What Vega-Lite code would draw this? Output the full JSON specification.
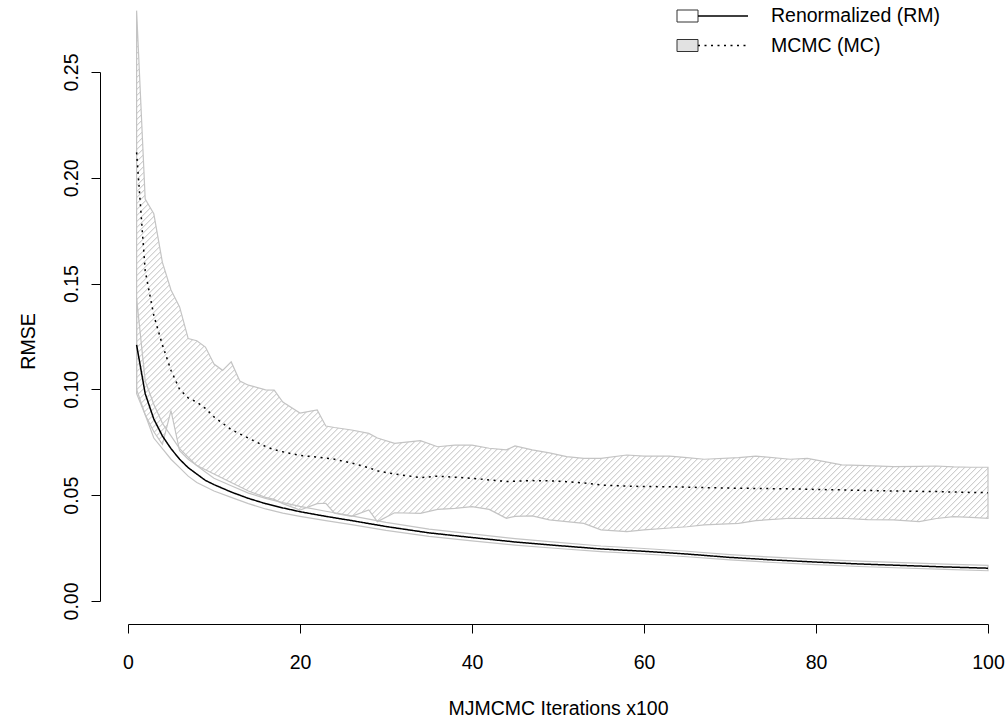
{
  "$schema": "https://vega.github.io/schema/vega-lite/v6.json",
  "width": 860,
  "height": 529,
  "autosize": {"type": "none"},
  "padding": {"left": 128, "top": 72, "right": 20, "bottom": 120},
  "background": "white",
  "config": {
    "view": {"stroke": null},
    "font": "Liberation Sans",
    "axis": {"domainColor": "black", "tickColor": "black", "labelColor": "black", "titleColor": "black", "grid": false, "labelFont": "Liberation Sans", "titleFont": "Liberation Sans", "titleFontWeight": "normal", "labelFontSize": 19.5, "titleFontSize": 19.5, "tickSize": 9, "labelFlush": false, "labelOverlap": false}
  },
  "data": {"values": [
    {"x":1,"series":"MC","lo":0.100,"hi":0.279,"mean":0.212},
    {"x":2,"series":"MC","lo":0.088,"hi":0.190,"mean":0.156},
    {"x":3,"series":"MC","lo":0.080,"hi":0.183,"mean":0.135},
    {"x":4,"series":"MC","lo":0.074,"hi":0.160,"mean":0.121},
    {"x":5,"series":"MC","lo":0.090,"hi":0.147,"mean":0.109},
    {"x":6,"series":"MC","lo":0.071,"hi":0.139,"mean":0.100},
    {"x":7,"series":"MC","lo":0.067,"hi":0.124,"mean":0.096},
    {"x":8,"series":"MC","lo":0.064,"hi":0.123,"mean":0.094},
    {"x":9,"series":"MC","lo":0.062,"hi":0.120,"mean":0.091},
    {"x":10,"series":"MC","lo":0.060,"hi":0.112,"mean":0.087},
    {"x":11,"series":"MC","lo":0.058,"hi":0.109,"mean":0.084},
    {"x":12,"series":"MC","lo":0.056,"hi":0.113,"mean":0.081},
    {"x":13,"series":"MC","lo":0.054,"hi":0.104,"mean":0.079},
    {"x":14,"series":"MC","lo":0.052,"hi":0.102,"mean":0.077},
    {"x":16,"series":"MC","lo":0.049,"hi":0.0998,"mean":0.073},
    {"x":17,"series":"MC","lo":0.048,"hi":0.0997,"mean":0.0715},
    {"x":18,"series":"MC","lo":0.046,"hi":0.094,"mean":0.0705},
    {"x":20,"series":"MC","lo":0.043,"hi":0.0888,"mean":0.0688},
    {"x":22,"series":"MC","lo":0.046,"hi":0.0903,"mean":0.068},
    {"x":23,"series":"MC","lo":0.0462,"hi":0.0827,"mean":0.0675},
    {"x":24,"series":"MC","lo":0.0415,"hi":0.082,"mean":0.067},
    {"x":26,"series":"MC","lo":0.040,"hi":0.0808,"mean":0.0652},
    {"x":28,"series":"MC","lo":0.043,"hi":0.0792,"mean":0.063},
    {"x":29,"series":"MC","lo":0.0375,"hi":0.077,"mean":0.0615},
    {"x":31,"series":"MC","lo":0.0417,"hi":0.0745,"mean":0.060},
    {"x":34,"series":"MC","lo":0.0414,"hi":0.0758,"mean":0.0583},
    {"x":36,"series":"MC","lo":0.0433,"hi":0.0729,"mean":0.059},
    {"x":38,"series":"MC","lo":0.0438,"hi":0.0737,"mean":0.0585},
    {"x":40,"series":"MC","lo":0.0446,"hi":0.0737,"mean":0.058},
    {"x":42,"series":"MC","lo":0.0433,"hi":0.0722,"mean":0.0572},
    {"x":44,"series":"MC","lo":0.0391,"hi":0.0714,"mean":0.0565},
    {"x":45,"series":"MC","lo":0.040,"hi":0.0733,"mean":0.0566},
    {"x":47,"series":"MC","lo":0.0402,"hi":0.0714,"mean":0.0569},
    {"x":49,"series":"MC","lo":0.0383,"hi":0.070,"mean":0.0568},
    {"x":51,"series":"MC","lo":0.0375,"hi":0.0682,"mean":0.0564},
    {"x":53,"series":"MC","lo":0.0367,"hi":0.0674,"mean":0.0558},
    {"x":55,"series":"MC","lo":0.0336,"hi":0.0674,"mean":0.0548},
    {"x":58,"series":"MC","lo":0.0328,"hi":0.069,"mean":0.0543},
    {"x":60,"series":"MC","lo":0.0336,"hi":0.0685,"mean":0.0541},
    {"x":63,"series":"MC","lo":0.0345,"hi":0.0685,"mean":0.054},
    {"x":65,"series":"MC","lo":0.0351,"hi":0.0678,"mean":0.0538},
    {"x":67,"series":"MC","lo":0.036,"hi":0.067,"mean":0.0536},
    {"x":71,"series":"MC","lo":0.0367,"hi":0.0678,"mean":0.0533},
    {"x":73,"series":"MC","lo":0.038,"hi":0.0685,"mean":0.0532},
    {"x":77,"series":"MC","lo":0.0391,"hi":0.067,"mean":0.053},
    {"x":79,"series":"MC","lo":0.039,"hi":0.0674,"mean":0.0528},
    {"x":83,"series":"MC","lo":0.0391,"hi":0.0643,"mean":0.0525},
    {"x":86,"series":"MC","lo":0.0385,"hi":0.064,"mean":0.0522},
    {"x":89,"series":"MC","lo":0.0383,"hi":0.0635,"mean":0.052},
    {"x":92,"series":"MC","lo":0.0375,"hi":0.0636,"mean":0.0518},
    {"x":94,"series":"MC","lo":0.039,"hi":0.0638,"mean":0.0517},
    {"x":96,"series":"MC","lo":0.0399,"hi":0.0634,"mean":0.0515},
    {"x":98,"series":"MC","lo":0.0395,"hi":0.0632,"mean":0.0513},
    {"x":100,"series":"MC","lo":0.0391,"hi":0.0632,"mean":0.0512},
    {"x":1,"series":"RM","lo":0.098,"hi":0.143,"mean":0.121},
    {"x":2,"series":"RM","lo":0.088,"hi":0.104,"mean":0.098},
    {"x":3,"series":"RM","lo":0.077,"hi":0.093,"mean":0.086},
    {"x":4,"series":"RM","lo":0.072,"hi":0.084,"mean":0.078},
    {"x":5,"series":"RM","lo":0.067,"hi":0.078,"mean":0.072},
    {"x":6,"series":"RM","lo":0.063,"hi":0.072,"mean":0.067},
    {"x":7,"series":"RM","lo":0.059,"hi":0.068,"mean":0.063},
    {"x":8,"series":"RM","lo":0.056,"hi":0.064,"mean":0.060},
    {"x":9,"series":"RM","lo":0.054,"hi":0.061,"mean":0.057},
    {"x":10,"series":"RM","lo":0.052,"hi":0.058,"mean":0.055},
    {"x":12,"series":"RM","lo":0.049,"hi":0.0545,"mean":0.0515},
    {"x":14,"series":"RM","lo":0.046,"hi":0.051,"mean":0.0485},
    {"x":16,"series":"RM","lo":0.0435,"hi":0.0485,"mean":0.046},
    {"x":18,"series":"RM","lo":0.0415,"hi":0.0465,"mean":0.044},
    {"x":20,"series":"RM","lo":0.040,"hi":0.0447,"mean":0.0422},
    {"x":23,"series":"RM","lo":0.038,"hi":0.0424,"mean":0.040},
    {"x":26,"series":"RM","lo":0.0361,"hi":0.0402,"mean":0.038},
    {"x":30,"series":"RM","lo":0.0334,"hi":0.0372,"mean":0.0352},
    {"x":35,"series":"RM","lo":0.0305,"hi":0.034,"mean":0.0322},
    {"x":40,"series":"RM","lo":0.0284,"hi":0.0317,"mean":0.030},
    {"x":45,"series":"RM","lo":0.0264,"hi":0.0295,"mean":0.0279},
    {"x":50,"series":"RM","lo":0.0248,"hi":0.0277,"mean":0.0262},
    {"x":55,"series":"RM","lo":0.0233,"hi":0.026,"mean":0.0246},
    {"x":60,"series":"RM","lo":0.0222,"hi":0.0248,"mean":0.0235},
    {"x":65,"series":"RM","lo":0.0209,"hi":0.0235,"mean":0.0222},
    {"x":70,"series":"RM","lo":0.0194,"hi":0.0219,"mean":0.0206},
    {"x":75,"series":"RM","lo":0.0182,"hi":0.0207,"mean":0.0194},
    {"x":80,"series":"RM","lo":0.0172,"hi":0.0197,"mean":0.0184},
    {"x":85,"series":"RM","lo":0.0163,"hi":0.0188,"mean":0.0175},
    {"x":90,"series":"RM","lo":0.0156,"hi":0.0181,"mean":0.0168},
    {"x":95,"series":"RM","lo":0.0149,"hi":0.0174,"mean":0.0161},
    {"x":100,"series":"RM","lo":0.0143,"hi":0.0168,"mean":0.0155}
  ]},
  "layer": [
    {
      "mark": {"type": "area", "stroke": "#c4c4c4", "strokeWidth": 1.2},
      "encoding": {
        "x": {"field": "x", "type": "quantitative", "scale": {"domain": [0, 100], "nice": false, "zero": false},
          "axis": {"title": "MJMCMC Iterations x100", "values": [0, 20, 40, 60, 80, 100], "offset": 23, "labelPadding": 20, "titleY": 84, "titleBaseline": "middle"}},
        "y": {"field": "lo", "type": "quantitative", "scale": {"domain": [0, 0.25], "nice": false, "zero": false},
          "axis": {"title": "RMSE", "values": [0, 0.05, 0.1, 0.15, 0.2, 0.25], "format": ".2f", "offset": 28, "labelAngle": -90, "labelAlign": "center", "labelBaseline": "middle", "labelPadding": 20, "titleX": -72, "titleY": 269, "titleAngle": -90, "titleAlign": "center", "titleBaseline": "middle"}},
        "y2": {"field": "hi"},
        "fill": {"field": "series", "type": "nominal",
          "scale": {"domain": ["RM", "MC"], "range": ["transparent", "#e2e2e2"]},
          "condition": {"test": "datum.series == 'MC'", "value": {"gradient": "linear", "x1": 0, "y1": 0, "x2": 1.282, "y2": 0.784, "stops": [
{"offset":0,"color":"#fff"},{"offset":0.0007,"color":"#bbb"},{"offset":0.0013,"color":"#fff"},
{"offset":0.004,"color":"#fff"},{"offset":0.0047,"color":"#bbb"},{"offset":0.0053,"color":"#fff"},
{"offset":0.008,"color":"#fff"},{"offset":0.0087,"color":"#bbb"},{"offset":0.0093,"color":"#fff"},
{"offset":0.012,"color":"#fff"},{"offset":0.0127,"color":"#bbb"},{"offset":0.0133,"color":"#fff"},
{"offset":0.016,"color":"#fff"},{"offset":0.0167,"color":"#bbb"},{"offset":0.0173,"color":"#fff"},
{"offset":0.020,"color":"#fff"},{"offset":0.0207,"color":"#bbb"},{"offset":0.0213,"color":"#fff"},
{"offset":0.024,"color":"#fff"},{"offset":0.0247,"color":"#bbb"},{"offset":0.0253,"color":"#fff"},
{"offset":0.028,"color":"#fff"},{"offset":0.0287,"color":"#bbb"},{"offset":0.0293,"color":"#fff"},
{"offset":0.032,"color":"#fff"},{"offset":0.0327,"color":"#bbb"},{"offset":0.0333,"color":"#fff"},
{"offset":0.036,"color":"#fff"},{"offset":0.0367,"color":"#bbb"},{"offset":0.0373,"color":"#fff"},
{"offset":0.040,"color":"#fff"},{"offset":0.0407,"color":"#bbb"},{"offset":0.0413,"color":"#fff"},
{"offset":0.044,"color":"#fff"},{"offset":0.0447,"color":"#bbb"},{"offset":0.0453,"color":"#fff"},
{"offset":0.048,"color":"#fff"},{"offset":0.0487,"color":"#bbb"},{"offset":0.0493,"color":"#fff"},
{"offset":0.052,"color":"#fff"},{"offset":0.0527,"color":"#bbb"},{"offset":0.0533,"color":"#fff"},
{"offset":0.056,"color":"#fff"},{"offset":0.0567,"color":"#bbb"},{"offset":0.0573,"color":"#fff"},
{"offset":0.060,"color":"#fff"},{"offset":0.0607,"color":"#bbb"},{"offset":0.0613,"color":"#fff"},
{"offset":0.064,"color":"#fff"},{"offset":0.0647,"color":"#bbb"},{"offset":0.0653,"color":"#fff"},
{"offset":0.068,"color":"#fff"},{"offset":0.0687,"color":"#bbb"},{"offset":0.0693,"color":"#fff"},
{"offset":0.072,"color":"#fff"},{"offset":0.0727,"color":"#bbb"},{"offset":0.0733,"color":"#fff"},
{"offset":0.076,"color":"#fff"},{"offset":0.0767,"color":"#bbb"},{"offset":0.0773,"color":"#fff"},
{"offset":0.080,"color":"#fff"},{"offset":0.0807,"color":"#bbb"},{"offset":0.0813,"color":"#fff"},
{"offset":0.084,"color":"#fff"},{"offset":0.0847,"color":"#bbb"},{"offset":0.0853,"color":"#fff"},
{"offset":0.088,"color":"#fff"},{"offset":0.0887,"color":"#bbb"},{"offset":0.0893,"color":"#fff"},
{"offset":0.092,"color":"#fff"},{"offset":0.0927,"color":"#bbb"},{"offset":0.0933,"color":"#fff"},
{"offset":0.096,"color":"#fff"},{"offset":0.0967,"color":"#bbb"},{"offset":0.0973,"color":"#fff"},
{"offset":0.100,"color":"#fff"},{"offset":0.1007,"color":"#bbb"},{"offset":0.1013,"color":"#fff"},
{"offset":0.104,"color":"#fff"},{"offset":0.1047,"color":"#bbb"},{"offset":0.1053,"color":"#fff"},
{"offset":0.108,"color":"#fff"},{"offset":0.1087,"color":"#bbb"},{"offset":0.1093,"color":"#fff"},
{"offset":0.112,"color":"#fff"},{"offset":0.1127,"color":"#bbb"},{"offset":0.1133,"color":"#fff"},
{"offset":0.116,"color":"#fff"},{"offset":0.1167,"color":"#bbb"},{"offset":0.1173,"color":"#fff"},
{"offset":0.120,"color":"#fff"},{"offset":0.1207,"color":"#bbb"},{"offset":0.1213,"color":"#fff"},
{"offset":0.124,"color":"#fff"},{"offset":0.1247,"color":"#bbb"},{"offset":0.1253,"color":"#fff"},
{"offset":0.128,"color":"#fff"},{"offset":0.1287,"color":"#bbb"},{"offset":0.1293,"color":"#fff"},
{"offset":0.132,"color":"#fff"},{"offset":0.1327,"color":"#bbb"},{"offset":0.1333,"color":"#fff"},
{"offset":0.136,"color":"#fff"},{"offset":0.1367,"color":"#bbb"},{"offset":0.1373,"color":"#fff"},
{"offset":0.140,"color":"#fff"},{"offset":0.1407,"color":"#bbb"},{"offset":0.1413,"color":"#fff"},
{"offset":0.144,"color":"#fff"},{"offset":0.1447,"color":"#bbb"},{"offset":0.1453,"color":"#fff"},
{"offset":0.148,"color":"#fff"},{"offset":0.1487,"color":"#bbb"},{"offset":0.1493,"color":"#fff"},
{"offset":0.152,"color":"#fff"},{"offset":0.1527,"color":"#bbb"},{"offset":0.1533,"color":"#fff"},
{"offset":0.156,"color":"#fff"},{"offset":0.1567,"color":"#bbb"},{"offset":0.1573,"color":"#fff"},
{"offset":0.160,"color":"#fff"},{"offset":0.1607,"color":"#bbb"},{"offset":0.1613,"color":"#fff"},
{"offset":0.164,"color":"#fff"},{"offset":0.1647,"color":"#bbb"},{"offset":0.1653,"color":"#fff"},
{"offset":0.168,"color":"#fff"},{"offset":0.1687,"color":"#bbb"},{"offset":0.1693,"color":"#fff"},
{"offset":0.172,"color":"#fff"},{"offset":0.1727,"color":"#bbb"},{"offset":0.1733,"color":"#fff"},
{"offset":0.176,"color":"#fff"},{"offset":0.1767,"color":"#bbb"},{"offset":0.1773,"color":"#fff"},
{"offset":0.180,"color":"#fff"},{"offset":0.1807,"color":"#bbb"},{"offset":0.1813,"color":"#fff"},
{"offset":0.184,"color":"#fff"},{"offset":0.1847,"color":"#bbb"},{"offset":0.1853,"color":"#fff"},
{"offset":0.188,"color":"#fff"},{"offset":0.1887,"color":"#bbb"},{"offset":0.1893,"color":"#fff"},
{"offset":0.192,"color":"#fff"},{"offset":0.1927,"color":"#bbb"},{"offset":0.1933,"color":"#fff"},
{"offset":0.196,"color":"#fff"},{"offset":0.1967,"color":"#bbb"},{"offset":0.1973,"color":"#fff"},
{"offset":0.200,"color":"#fff"},{"offset":0.2007,"color":"#bbb"},{"offset":0.2013,"color":"#fff"},
{"offset":0.204,"color":"#fff"},{"offset":0.2047,"color":"#bbb"},{"offset":0.2053,"color":"#fff"},
{"offset":0.208,"color":"#fff"},{"offset":0.2087,"color":"#bbb"},{"offset":0.2093,"color":"#fff"},
{"offset":0.212,"color":"#fff"},{"offset":0.2127,"color":"#bbb"},{"offset":0.2133,"color":"#fff"},
{"offset":0.216,"color":"#fff"},{"offset":0.2167,"color":"#bbb"},{"offset":0.2173,"color":"#fff"},
{"offset":0.220,"color":"#fff"},{"offset":0.2207,"color":"#bbb"},{"offset":0.2213,"color":"#fff"},
{"offset":0.224,"color":"#fff"},{"offset":0.2247,"color":"#bbb"},{"offset":0.2253,"color":"#fff"},
{"offset":0.228,"color":"#fff"},{"offset":0.2287,"color":"#bbb"},{"offset":0.2293,"color":"#fff"},
{"offset":0.232,"color":"#fff"},{"offset":0.2327,"color":"#bbb"},{"offset":0.2333,"color":"#fff"},
{"offset":0.236,"color":"#fff"},{"offset":0.2367,"color":"#bbb"},{"offset":0.2373,"color":"#fff"},
{"offset":0.240,"color":"#fff"},{"offset":0.2407,"color":"#bbb"},{"offset":0.2413,"color":"#fff"},
{"offset":0.244,"color":"#fff"},{"offset":0.2447,"color":"#bbb"},{"offset":0.2453,"color":"#fff"},
{"offset":0.248,"color":"#fff"},{"offset":0.2487,"color":"#bbb"},{"offset":0.2493,"color":"#fff"},
{"offset":0.252,"color":"#fff"},{"offset":0.2527,"color":"#bbb"},{"offset":0.2533,"color":"#fff"},
{"offset":0.256,"color":"#fff"},{"offset":0.2567,"color":"#bbb"},{"offset":0.2573,"color":"#fff"},
{"offset":0.260,"color":"#fff"},{"offset":0.2607,"color":"#bbb"},{"offset":0.2613,"color":"#fff"},
{"offset":0.264,"color":"#fff"},{"offset":0.2647,"color":"#bbb"},{"offset":0.2653,"color":"#fff"},
{"offset":0.268,"color":"#fff"},{"offset":0.2687,"color":"#bbb"},{"offset":0.2693,"color":"#fff"},
{"offset":0.272,"color":"#fff"},{"offset":0.2727,"color":"#bbb"},{"offset":0.2733,"color":"#fff"},
{"offset":0.276,"color":"#fff"},{"offset":0.2767,"color":"#bbb"},{"offset":0.2773,"color":"#fff"},
{"offset":0.280,"color":"#fff"},{"offset":0.2807,"color":"#bbb"},{"offset":0.2813,"color":"#fff"},
{"offset":0.284,"color":"#fff"},{"offset":0.2847,"color":"#bbb"},{"offset":0.2853,"color":"#fff"},
{"offset":0.288,"color":"#fff"},{"offset":0.2887,"color":"#bbb"},{"offset":0.2893,"color":"#fff"},
{"offset":0.292,"color":"#fff"},{"offset":0.2927,"color":"#bbb"},{"offset":0.2933,"color":"#fff"},
{"offset":0.296,"color":"#fff"},{"offset":0.2967,"color":"#bbb"},{"offset":0.2973,"color":"#fff"},
{"offset":0.300,"color":"#fff"},{"offset":0.3007,"color":"#bbb"},{"offset":0.3013,"color":"#fff"},
{"offset":0.304,"color":"#fff"},{"offset":0.3047,"color":"#bbb"},{"offset":0.3053,"color":"#fff"},
{"offset":0.308,"color":"#fff"},{"offset":0.3087,"color":"#bbb"},{"offset":0.3093,"color":"#fff"},
{"offset":0.312,"color":"#fff"},{"offset":0.3127,"color":"#bbb"},{"offset":0.3133,"color":"#fff"},
{"offset":0.316,"color":"#fff"},{"offset":0.3167,"color":"#bbb"},{"offset":0.3173,"color":"#fff"},
{"offset":0.320,"color":"#fff"},{"offset":0.3207,"color":"#bbb"},{"offset":0.3213,"color":"#fff"},
{"offset":0.324,"color":"#fff"},{"offset":0.3247,"color":"#bbb"},{"offset":0.3253,"color":"#fff"},
{"offset":0.328,"color":"#fff"},{"offset":0.3287,"color":"#bbb"},{"offset":0.3293,"color":"#fff"},
{"offset":0.332,"color":"#fff"},{"offset":0.3327,"color":"#bbb"},{"offset":0.3333,"color":"#fff"},
{"offset":0.336,"color":"#fff"},{"offset":0.3367,"color":"#bbb"},{"offset":0.3373,"color":"#fff"},
{"offset":0.340,"color":"#fff"},{"offset":0.3407,"color":"#bbb"},{"offset":0.3413,"color":"#fff"},
{"offset":0.344,"color":"#fff"},{"offset":0.3447,"color":"#bbb"},{"offset":0.3453,"color":"#fff"},
{"offset":0.348,"color":"#fff"},{"offset":0.3487,"color":"#bbb"},{"offset":0.3493,"color":"#fff"},
{"offset":0.352,"color":"#fff"},{"offset":0.3527,"color":"#bbb"},{"offset":0.3533,"color":"#fff"},
{"offset":0.356,"color":"#fff"},{"offset":0.3567,"color":"#bbb"},{"offset":0.3573,"color":"#fff"},
{"offset":0.360,"color":"#fff"},{"offset":0.3607,"color":"#bbb"},{"offset":0.3613,"color":"#fff"},
{"offset":0.364,"color":"#fff"},{"offset":0.3647,"color":"#bbb"},{"offset":0.3653,"color":"#fff"},
{"offset":0.368,"color":"#fff"},{"offset":0.3687,"color":"#bbb"},{"offset":0.3693,"color":"#fff"},
{"offset":0.372,"color":"#fff"},{"offset":0.3727,"color":"#bbb"},{"offset":0.3733,"color":"#fff"},
{"offset":0.376,"color":"#fff"},{"offset":0.3767,"color":"#bbb"},{"offset":0.3773,"color":"#fff"},
{"offset":0.380,"color":"#fff"},{"offset":0.3807,"color":"#bbb"},{"offset":0.3813,"color":"#fff"},
{"offset":0.384,"color":"#fff"},{"offset":0.3847,"color":"#bbb"},{"offset":0.3853,"color":"#fff"},
{"offset":0.388,"color":"#fff"},{"offset":0.3887,"color":"#bbb"},{"offset":0.3893,"color":"#fff"},
{"offset":0.392,"color":"#fff"},{"offset":0.3927,"color":"#bbb"},{"offset":0.3933,"color":"#fff"},
{"offset":0.396,"color":"#fff"},{"offset":0.3967,"color":"#bbb"},{"offset":0.3973,"color":"#fff"},
{"offset":0.400,"color":"#fff"},{"offset":0.4007,"color":"#bbb"},{"offset":0.4013,"color":"#fff"},
{"offset":0.404,"color":"#fff"},{"offset":0.4047,"color":"#bbb"},{"offset":0.4053,"color":"#fff"},
{"offset":0.408,"color":"#fff"},{"offset":0.4087,"color":"#bbb"},{"offset":0.4093,"color":"#fff"},
{"offset":0.412,"color":"#fff"},{"offset":0.4127,"color":"#bbb"},{"offset":0.4133,"color":"#fff"},
{"offset":0.416,"color":"#fff"},{"offset":0.4167,"color":"#bbb"},{"offset":0.4173,"color":"#fff"},
{"offset":0.420,"color":"#fff"},{"offset":0.4207,"color":"#bbb"},{"offset":0.4213,"color":"#fff"},
{"offset":0.424,"color":"#fff"},{"offset":0.4247,"color":"#bbb"},{"offset":0.4253,"color":"#fff"},
{"offset":0.428,"color":"#fff"},{"offset":0.4287,"color":"#bbb"},{"offset":0.4293,"color":"#fff"},
{"offset":0.432,"color":"#fff"},{"offset":0.4327,"color":"#bbb"},{"offset":0.4333,"color":"#fff"},
{"offset":0.436,"color":"#fff"},{"offset":0.4367,"color":"#bbb"},{"offset":0.4373,"color":"#fff"},
{"offset":0.440,"color":"#fff"},{"offset":0.4407,"color":"#bbb"},{"offset":0.4413,"color":"#fff"},
{"offset":0.444,"color":"#fff"},{"offset":0.4447,"color":"#bbb"},{"offset":0.4453,"color":"#fff"},
{"offset":0.448,"color":"#fff"},{"offset":0.4487,"color":"#bbb"},{"offset":0.4493,"color":"#fff"},
{"offset":0.452,"color":"#fff"},{"offset":0.4527,"color":"#bbb"},{"offset":0.4533,"color":"#fff"},
{"offset":0.456,"color":"#fff"},{"offset":0.4567,"color":"#bbb"},{"offset":0.4573,"color":"#fff"},
{"offset":0.460,"color":"#fff"},{"offset":0.4607,"color":"#bbb"},{"offset":0.4613,"color":"#fff"},
{"offset":0.464,"color":"#fff"},{"offset":0.4647,"color":"#bbb"},{"offset":0.4653,"color":"#fff"},
{"offset":0.468,"color":"#fff"},{"offset":0.4687,"color":"#bbb"},{"offset":0.4693,"color":"#fff"},
{"offset":0.472,"color":"#fff"},{"offset":0.4727,"color":"#bbb"},{"offset":0.4733,"color":"#fff"},
{"offset":0.476,"color":"#fff"},{"offset":0.4767,"color":"#bbb"},{"offset":0.4773,"color":"#fff"},
{"offset":0.480,"color":"#fff"},{"offset":0.4807,"color":"#bbb"},{"offset":0.4813,"color":"#fff"},
{"offset":0.484,"color":"#fff"},{"offset":0.4847,"color":"#bbb"},{"offset":0.4853,"color":"#fff"},
{"offset":0.488,"color":"#fff"},{"offset":0.4887,"color":"#bbb"},{"offset":0.4893,"color":"#fff"},
{"offset":0.492,"color":"#fff"},{"offset":0.4927,"color":"#bbb"},{"offset":0.4933,"color":"#fff"},
{"offset":0.496,"color":"#fff"},{"offset":0.4967,"color":"#bbb"},{"offset":0.4973,"color":"#fff"},
{"offset":0.500,"color":"#fff"},{"offset":0.5007,"color":"#bbb"},{"offset":0.5013,"color":"#fff"},
{"offset":0.504,"color":"#fff"},{"offset":0.5047,"color":"#bbb"},{"offset":0.5053,"color":"#fff"},
{"offset":0.508,"color":"#fff"},{"offset":0.5087,"color":"#bbb"},{"offset":0.5093,"color":"#fff"},
{"offset":0.512,"color":"#fff"},{"offset":0.5127,"color":"#bbb"},{"offset":0.5133,"color":"#fff"},
{"offset":0.516,"color":"#fff"},{"offset":0.5167,"color":"#bbb"},{"offset":0.5173,"color":"#fff"},
{"offset":0.520,"color":"#fff"},{"offset":0.5207,"color":"#bbb"},{"offset":0.5213,"color":"#fff"},
{"offset":0.524,"color":"#fff"},{"offset":0.5247,"color":"#bbb"},{"offset":0.5253,"color":"#fff"},
{"offset":0.528,"color":"#fff"},{"offset":0.5287,"color":"#bbb"},{"offset":0.5293,"color":"#fff"},
{"offset":0.532,"color":"#fff"},{"offset":0.5327,"color":"#bbb"},{"offset":0.5333,"color":"#fff"},
{"offset":0.536,"color":"#fff"},{"offset":0.5367,"color":"#bbb"},{"offset":0.5373,"color":"#fff"},
{"offset":0.540,"color":"#fff"},{"offset":0.5407,"color":"#bbb"},{"offset":0.5413,"color":"#fff"},
{"offset":0.544,"color":"#fff"},{"offset":0.5447,"color":"#bbb"},{"offset":0.5453,"color":"#fff"},
{"offset":0.548,"color":"#fff"},{"offset":0.5487,"color":"#bbb"},{"offset":0.5493,"color":"#fff"},
{"offset":0.552,"color":"#fff"},{"offset":0.5527,"color":"#bbb"},{"offset":0.5533,"color":"#fff"},
{"offset":0.556,"color":"#fff"},{"offset":0.5567,"color":"#bbb"},{"offset":0.5573,"color":"#fff"},
{"offset":0.560,"color":"#fff"},{"offset":0.5607,"color":"#bbb"},{"offset":0.5613,"color":"#fff"},
{"offset":0.564,"color":"#fff"},{"offset":0.5647,"color":"#bbb"},{"offset":0.5653,"color":"#fff"},
{"offset":0.568,"color":"#fff"},{"offset":0.5687,"color":"#bbb"},{"offset":0.5693,"color":"#fff"},
{"offset":0.572,"color":"#fff"},{"offset":0.5727,"color":"#bbb"},{"offset":0.5733,"color":"#fff"},
{"offset":0.576,"color":"#fff"},{"offset":0.5767,"color":"#bbb"},{"offset":0.5773,"color":"#fff"},
{"offset":0.580,"color":"#fff"},{"offset":0.5807,"color":"#bbb"},{"offset":0.5813,"color":"#fff"},
{"offset":0.584,"color":"#fff"},{"offset":0.5847,"color":"#bbb"},{"offset":0.5853,"color":"#fff"},
{"offset":0.588,"color":"#fff"},{"offset":0.5887,"color":"#bbb"},{"offset":0.5893,"color":"#fff"},
{"offset":0.592,"color":"#fff"},{"offset":0.5927,"color":"#bbb"},{"offset":0.5933,"color":"#fff"},
{"offset":0.596,"color":"#fff"},{"offset":0.5967,"color":"#bbb"},{"offset":0.5973,"color":"#fff"},
{"offset":0.600,"color":"#fff"},{"offset":0.6007,"color":"#bbb"},{"offset":0.6013,"color":"#fff"},
{"offset":0.604,"color":"#fff"},{"offset":0.6047,"color":"#bbb"},{"offset":0.6053,"color":"#fff"},
{"offset":0.608,"color":"#fff"},{"offset":0.6087,"color":"#bbb"},{"offset":0.6093,"color":"#fff"},
{"offset":0.612,"color":"#fff"},{"offset":0.6127,"color":"#bbb"},{"offset":0.6133,"color":"#fff"},
{"offset":0.616,"color":"#fff"},{"offset":0.6167,"color":"#bbb"},{"offset":0.6173,"color":"#fff"},
{"offset":0.620,"color":"#fff"},{"offset":0.6207,"color":"#bbb"},{"offset":0.6213,"color":"#fff"},
{"offset":0.624,"color":"#fff"},{"offset":0.6247,"color":"#bbb"},{"offset":0.6253,"color":"#fff"},
{"offset":0.628,"color":"#fff"},{"offset":0.6287,"color":"#bbb"},{"offset":0.6293,"color":"#fff"},
{"offset":0.632,"color":"#fff"},{"offset":0.6327,"color":"#bbb"},{"offset":0.6333,"color":"#fff"},
{"offset":0.636,"color":"#fff"},{"offset":0.6367,"color":"#bbb"},{"offset":0.6373,"color":"#fff"},
{"offset":0.640,"color":"#fff"},{"offset":0.6407,"color":"#bbb"},{"offset":0.6413,"color":"#fff"},
{"offset":0.644,"color":"#fff"},{"offset":0.6447,"color":"#bbb"},{"offset":0.6453,"color":"#fff"},
{"offset":0.648,"color":"#fff"},{"offset":0.6487,"color":"#bbb"},{"offset":0.6493,"color":"#fff"},
{"offset":0.652,"color":"#fff"},{"offset":0.6527,"color":"#bbb"},{"offset":0.6533,"color":"#fff"},
{"offset":0.656,"color":"#fff"},{"offset":0.6567,"color":"#bbb"},{"offset":0.6573,"color":"#fff"},
{"offset":0.660,"color":"#fff"},{"offset":0.6607,"color":"#bbb"},{"offset":0.6613,"color":"#fff"},
{"offset":0.664,"color":"#fff"},{"offset":0.6647,"color":"#bbb"},{"offset":0.6653,"color":"#fff"},
{"offset":0.668,"color":"#fff"},{"offset":0.6687,"color":"#bbb"},{"offset":0.6693,"color":"#fff"},
{"offset":0.672,"color":"#fff"},{"offset":0.6727,"color":"#bbb"},{"offset":0.6733,"color":"#fff"},
{"offset":0.676,"color":"#fff"},{"offset":0.6767,"color":"#bbb"},{"offset":0.6773,"color":"#fff"},
{"offset":0.680,"color":"#fff"},{"offset":0.6807,"color":"#bbb"},{"offset":0.6813,"color":"#fff"},
{"offset":0.684,"color":"#fff"},{"offset":0.6847,"color":"#bbb"},{"offset":0.6853,"color":"#fff"},
{"offset":0.688,"color":"#fff"},{"offset":0.6887,"color":"#bbb"},{"offset":0.6893,"color":"#fff"},
{"offset":0.692,"color":"#fff"},{"offset":0.6927,"color":"#bbb"},{"offset":0.6933,"color":"#fff"},
{"offset":0.696,"color":"#fff"},{"offset":0.6967,"color":"#bbb"},{"offset":0.6973,"color":"#fff"},
{"offset":0.700,"color":"#fff"},{"offset":0.7007,"color":"#bbb"},{"offset":0.7013,"color":"#fff"},
{"offset":0.704,"color":"#fff"},{"offset":0.7047,"color":"#bbb"},{"offset":0.7053,"color":"#fff"},
{"offset":0.708,"color":"#fff"},{"offset":0.7087,"color":"#bbb"},{"offset":0.7093,"color":"#fff"},
{"offset":0.712,"color":"#fff"},{"offset":0.7127,"color":"#bbb"},{"offset":0.7133,"color":"#fff"},
{"offset":0.716,"color":"#fff"},{"offset":0.7167,"color":"#bbb"},{"offset":0.7173,"color":"#fff"},
{"offset":0.720,"color":"#fff"},{"offset":0.7207,"color":"#bbb"},{"offset":0.7213,"color":"#fff"},
{"offset":0.724,"color":"#fff"},{"offset":0.7247,"color":"#bbb"},{"offset":0.7253,"color":"#fff"},
{"offset":0.728,"color":"#fff"},{"offset":0.7287,"color":"#bbb"},{"offset":0.7293,"color":"#fff"},
{"offset":0.732,"color":"#fff"},{"offset":0.7327,"color":"#bbb"},{"offset":0.7333,"color":"#fff"},
{"offset":0.736,"color":"#fff"},{"offset":0.7367,"color":"#bbb"},{"offset":0.7373,"color":"#fff"},
{"offset":0.740,"color":"#fff"},{"offset":0.7407,"color":"#bbb"},{"offset":0.7413,"color":"#fff"},
{"offset":0.744,"color":"#fff"},{"offset":0.7447,"color":"#bbb"},{"offset":0.7453,"color":"#fff"},
{"offset":0.748,"color":"#fff"},{"offset":0.7487,"color":"#bbb"},{"offset":0.7493,"color":"#fff"},
{"offset":0.752,"color":"#fff"},{"offset":0.7527,"color":"#bbb"},{"offset":0.7533,"color":"#fff"},
{"offset":0.756,"color":"#fff"},{"offset":0.7567,"color":"#bbb"},{"offset":0.7573,"color":"#fff"},
{"offset":0.760,"color":"#fff"},{"offset":0.7607,"color":"#bbb"},{"offset":0.7613,"color":"#fff"},
{"offset":0.764,"color":"#fff"},{"offset":0.7647,"color":"#bbb"},{"offset":0.7653,"color":"#fff"},
{"offset":0.768,"color":"#fff"},{"offset":0.7687,"color":"#bbb"},{"offset":0.7693,"color":"#fff"},
{"offset":0.772,"color":"#fff"},{"offset":0.7727,"color":"#bbb"},{"offset":0.7733,"color":"#fff"},
{"offset":0.776,"color":"#fff"},{"offset":0.7767,"color":"#bbb"},{"offset":0.7773,"color":"#fff"},
{"offset":0.780,"color":"#fff"},{"offset":0.7807,"color":"#bbb"},{"offset":0.7813,"color":"#fff"},
{"offset":0.784,"color":"#fff"},{"offset":0.7847,"color":"#bbb"},{"offset":0.7853,"color":"#fff"},
{"offset":0.788,"color":"#fff"},{"offset":0.7887,"color":"#bbb"},{"offset":0.7893,"color":"#fff"},
{"offset":0.792,"color":"#fff"},{"offset":0.7927,"color":"#bbb"},{"offset":0.7933,"color":"#fff"},
{"offset":0.796,"color":"#fff"},{"offset":0.7967,"color":"#bbb"},{"offset":0.7973,"color":"#fff"},
{"offset":0.800,"color":"#fff"},{"offset":0.8007,"color":"#bbb"},{"offset":0.8013,"color":"#fff"},
{"offset":0.804,"color":"#fff"},{"offset":0.8047,"color":"#bbb"},{"offset":0.8053,"color":"#fff"},
{"offset":0.808,"color":"#fff"},{"offset":0.8087,"color":"#bbb"},{"offset":0.8093,"color":"#fff"},
{"offset":0.812,"color":"#fff"},{"offset":0.8127,"color":"#bbb"},{"offset":0.8133,"color":"#fff"},
{"offset":0.816,"color":"#fff"},{"offset":0.8167,"color":"#bbb"},{"offset":0.8173,"color":"#fff"},
{"offset":0.820,"color":"#fff"},{"offset":0.8207,"color":"#bbb"},{"offset":0.8213,"color":"#fff"},
{"offset":0.824,"color":"#fff"},{"offset":0.8247,"color":"#bbb"},{"offset":0.8253,"color":"#fff"},
{"offset":0.828,"color":"#fff"},{"offset":0.8287,"color":"#bbb"},{"offset":0.8293,"color":"#fff"},
{"offset":0.832,"color":"#fff"},{"offset":0.8327,"color":"#bbb"},{"offset":0.8333,"color":"#fff"},
{"offset":0.836,"color":"#fff"},{"offset":0.8367,"color":"#bbb"},{"offset":0.8373,"color":"#fff"},
{"offset":0.840,"color":"#fff"},{"offset":0.8407,"color":"#bbb"},{"offset":0.8413,"color":"#fff"},
{"offset":0.844,"color":"#fff"},{"offset":0.8447,"color":"#bbb"},{"offset":0.8453,"color":"#fff"},
{"offset":0.848,"color":"#fff"},{"offset":0.8487,"color":"#bbb"},{"offset":0.8493,"color":"#fff"},
{"offset":0.852,"color":"#fff"},{"offset":0.8527,"color":"#bbb"},{"offset":0.8533,"color":"#fff"},
{"offset":0.856,"color":"#fff"},{"offset":0.8567,"color":"#bbb"},{"offset":0.8573,"color":"#fff"},
{"offset":0.860,"color":"#fff"},{"offset":0.8607,"color":"#bbb"},{"offset":0.8613,"color":"#fff"},
{"offset":0.864,"color":"#fff"},{"offset":0.8647,"color":"#bbb"},{"offset":0.8653,"color":"#fff"},
{"offset":0.868,"color":"#fff"},{"offset":0.8687,"color":"#bbb"},{"offset":0.8693,"color":"#fff"},
{"offset":0.872,"color":"#fff"},{"offset":0.8727,"color":"#bbb"},{"offset":0.8733,"color":"#fff"},
{"offset":0.876,"color":"#fff"},{"offset":0.8767,"color":"#bbb"},{"offset":0.8773,"color":"#fff"},
{"offset":0.880,"color":"#fff"},{"offset":0.8807,"color":"#bbb"},{"offset":0.8813,"color":"#fff"},
{"offset":0.884,"color":"#fff"},{"offset":0.8847,"color":"#bbb"},{"offset":0.8853,"color":"#fff"},
{"offset":0.888,"color":"#fff"},{"offset":0.8887,"color":"#bbb"},{"offset":0.8893,"color":"#fff"},
{"offset":0.892,"color":"#fff"},{"offset":0.8927,"color":"#bbb"},{"offset":0.8933,"color":"#fff"},
{"offset":0.896,"color":"#fff"},{"offset":0.8967,"color":"#bbb"},{"offset":0.8973,"color":"#fff"},
{"offset":0.900,"color":"#fff"},{"offset":0.9007,"color":"#bbb"},{"offset":0.9013,"color":"#fff"},
{"offset":0.904,"color":"#fff"},{"offset":0.9047,"color":"#bbb"},{"offset":0.9053,"color":"#fff"},
{"offset":0.908,"color":"#fff"},{"offset":0.9087,"color":"#bbb"},{"offset":0.9093,"color":"#fff"},
{"offset":0.912,"color":"#fff"},{"offset":0.9127,"color":"#bbb"},{"offset":0.9133,"color":"#fff"},
{"offset":0.916,"color":"#fff"},{"offset":0.9167,"color":"#bbb"},{"offset":0.9173,"color":"#fff"}
          ]}},
          "legend": {"orient": "none", "legendX": 549.75, "legendY": -65.75, "title": null, "padding": 0,
            "symbolType": "M-2.1,-1.2L2.1,-1.2L2.1,1.2L-2.1,1.2Z", "symbolSize": 100, "symbolStrokeColor": "#333", "symbolStrokeWidth": 1,
            "labelExpr": "''", "labelFontSize": 19.5, "rowPadding": 8.5,
            "encode": {"symbols": {"update": {"stroke": {"value": "#333"}, "strokeWidth": {"value": 1}}}}}
        }
      }
    },
    {
      "mark": {"type": "line", "color": "black", "strokeWidth": 1.5},
      "encoding": {
        "x": {"field": "x", "type": "quantitative"},
        "y": {"field": "mean", "type": "quantitative"},
        "strokeDash": {"field": "series", "type": "nominal", "sort": ["RM", "MC"], "scale": {"range": [[1, 0], [2, 4.5]]},
          "legend": {"orient": "none", "legendX": 585.25, "legendY": -65.75, "title": null, "padding": 0,
            "symbolType": "M-5,0L5,0", "symbolSize": 100, "symbolStrokeColor": "black", "symbolStrokeWidth": 1.5,
            "labelExpr": "datum.value == 'RM' ? 'Renormalized (RM)' : 'MCMC (MC)'", "labelFont": "Liberation Sans", "labelColor": "black",
            "labelFontSize": 19.5, "labelOffset": 38.25, "labelLimit": 400, "rowPadding": 8.5}
        }
      }
    }
  ]
}
